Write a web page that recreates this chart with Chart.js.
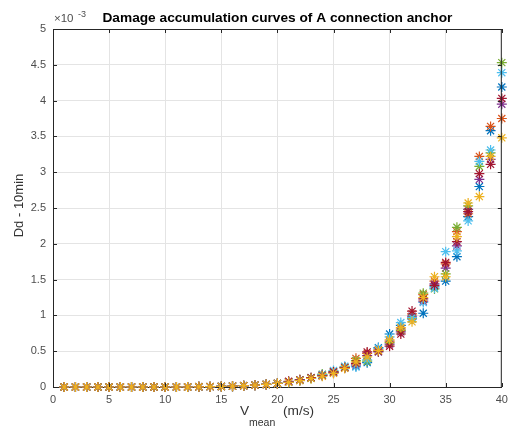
<!DOCTYPE html>
<html>
<head>
<meta charset="utf-8">
<script src="https://cdn.jsdelivr.net/npm/chart.js@4.4.1/dist/chart.umd.min.js"></script>
<style>
  html, body { margin: 0; padding: 0; background: #fff; }
</style>
</head>
<body>
<canvas id="chart" width="508" height="429"></canvas>
<script>
// wind speed bins (m/s)
const speeds = [1,2,3,4,5,6,7,8,9,10,11,12,13,14,15,16,17,18,19,20,
                21,22,23,24,25,26,27,28,29,30,31,32,33,34,35,36,37,38,39,40];

// damage values, units of 1e-3
const low = [0,0,0,0,0,0,0,0,0,0,0,0,0.003,0.005,0.008,0.012,0.018,0.026,0.036,0.05];
const blue      = low.concat([0.07,0.095,0.125,0.16,0.20,0.27,0.29,0.34,0.55,0.74,0.86,0.95,1.03,1.40,1.48,1.82,2.38,2.80,3.58,4.19]);
const orange    = low.concat([0.075,0.10,0.13,0.17,0.21,0.28,0.40,0.47,0.52,0.64,0.81,1.02,1.29,1.48,1.72,2.17,2.42,3.22,3.64,3.75]);
const yellow    = low.concat([0.065,0.09,0.12,0.15,0.19,0.26,0.35,0.42,0.51,0.66,0.83,0.91,1.25,1.54,1.54,2.10,2.57,2.66,3.22,3.48]);
const purple    = low.concat([0.07,0.095,0.125,0.165,0.20,0.27,0.31,0.44,0.49,0.60,0.77,0.99,1.20,1.44,1.66,1.97,2.48,2.90,3.18,3.95]);
const green     = low.concat([0.068,0.092,0.12,0.18,0.22,0.28,0.37,0.36,0.50,0.62,0.79,0.96,1.31,1.37,1.58,2.23,2.53,3.08,3.27,4.53]);
const lightblue = low.concat([0.072,0.10,0.13,0.17,0.23,0.29,0.28,0.38,0.54,0.70,0.90,0.97,1.18,1.38,1.89,1.90,2.32,3.15,3.31,4.39]);
const darkred   = low.concat([0.08,0.10,0.13,0.16,0.21,0.27,0.33,0.49,0.50,0.57,0.74,1.06,1.23,1.42,1.74,2.03,2.45,2.98,3.11,4.03]);

const seriesList = [
  { data: blue,      color: '#0072BD', order: 6 },
  { data: orange,    color: '#D95319', order: 5 },
  { data: purple,    color: '#7E2F8E', order: 4 },
  { data: green,     color: '#77AC30', order: 3 },
  { data: lightblue, color: '#4DBEEE', order: 2 },
  { data: darkred,   color: '#A2142F', order: 1 },
  { data: yellow,    color: '#EDB120', order: 0 }
];

const FONT = '"Liberation Sans", Arial, Helvetica, sans-serif';
const AXIS = '#262626';

// box, inward ticks and matlab-style labels
const matlabAxes = {
  id: 'matlabAxes',
  afterDraw(chart) {
    const { ctx, chartArea: a, scales } = chart;
    ctx.save();
    ctx.strokeStyle = AXIS;
    ctx.lineWidth = 1;
    ctx.beginPath();
    ctx.moveTo(a.left, a.top + 0.5); ctx.lineTo(a.right, a.top + 0.5);
    ctx.moveTo(a.right - 0.5, a.top); ctx.lineTo(a.right - 0.5, a.bottom);
    scales.x.ticks.forEach(t => {
      const px = Math.round(scales.x.getPixelForValue(t.value)) + 0.5;
      ctx.moveTo(px, a.bottom); ctx.lineTo(px, a.bottom - 4);
      ctx.moveTo(px, a.top); ctx.lineTo(px, a.top + 4);
    });
    scales.y.ticks.forEach(t => {
      const py = Math.round(scales.y.getPixelForValue(t.value)) + 0.5;
      ctx.moveTo(a.left, py); ctx.lineTo(a.left + 4, py);
      ctx.moveTo(a.right, py); ctx.lineTo(a.right - 4, py);
    });
    ctx.stroke();

    // title
    ctx.fillStyle = '#000';
    ctx.font = 'bold 13.7px ' + FONT;
    ctx.textAlign = 'center';
    ctx.textBaseline = 'alphabetic';
    ctx.fillText('Damage accumulation curves of A connection anchor', (a.left + a.right) / 2, 22);

    // exponent
    ctx.fillStyle = '#4d4d4d';
    ctx.textAlign = 'left';
    ctx.font = '11.5px ' + FONT;
    ctx.fillText('\u00d710', 54, 22);
    ctx.font = '9px ' + FONT;
    ctx.fillText('-3', 78, 17);

    // x label with subscript
    ctx.fillStyle = '#333';
    ctx.font = '13.7px ' + FONT;
    ctx.fillText('V', 240, 415);
    ctx.font = '10.5px ' + FONT;
    ctx.fillText('mean', 249, 426);
    ctx.font = '13.7px ' + FONT;
    ctx.fillText('(m/s)', 283, 415);

    // y label
    ctx.font = '13px ' + FONT;
    ctx.translate(23, 205.5);
    ctx.rotate(-Math.PI / 2);
    ctx.textAlign = 'center';
    ctx.fillText('Dd - 10min', 0, 0);
    ctx.restore();
  }
};

new Chart(document.getElementById('chart').getContext('2d'), {
  type: 'scatter',
  data: {
    datasets: seriesList.map(s => ({
      data: s.data.map((v, i) => ({ x: speeds[i], y: v })),
      order: s.order,
      clip: false,
      pointStyle: 'star',
      radius: 5,
      borderWidth: 1.2,
      borderColor: s.color,
      backgroundColor: s.color
    }))
  },
  options: {
    responsive: false,
    animation: false,
    events: [],
    layout: { padding: { top: 29, right: 6, left: 0, bottom: 0 } },
    plugins: { legend: { display: false }, tooltip: { enabled: false } },
    scales: {
      x: {
        type: 'linear', min: 0, max: 40,
        ticks: { stepSize: 5, color: '#4d4d4d', font: { family: FONT, size: 11 }, padding: 6, maxRotation: 0 },
        grid: { color: '#e4e4e4', drawTicks: false },
        border: { color: AXIS },
        afterFit: s => { s.height = 42; s.paddingLeft = 0; s.paddingRight = 0; }
      },
      y: {
        min: 0, max: 5,
        ticks: {
          stepSize: 0.5, color: '#4d4d4d', font: { family: FONT, size: 11 }, padding: 7,
          callback: v => String(+v.toFixed(1))
        },
        grid: { color: '#e4e4e4', drawTicks: false },
        border: { color: AXIS },
        afterFit: s => { s.width = 53; s.paddingTop = 0; s.paddingBottom = 0; }
      }
    }
  },
  plugins: [matlabAxes]
});
</script>
</body>
</html>
